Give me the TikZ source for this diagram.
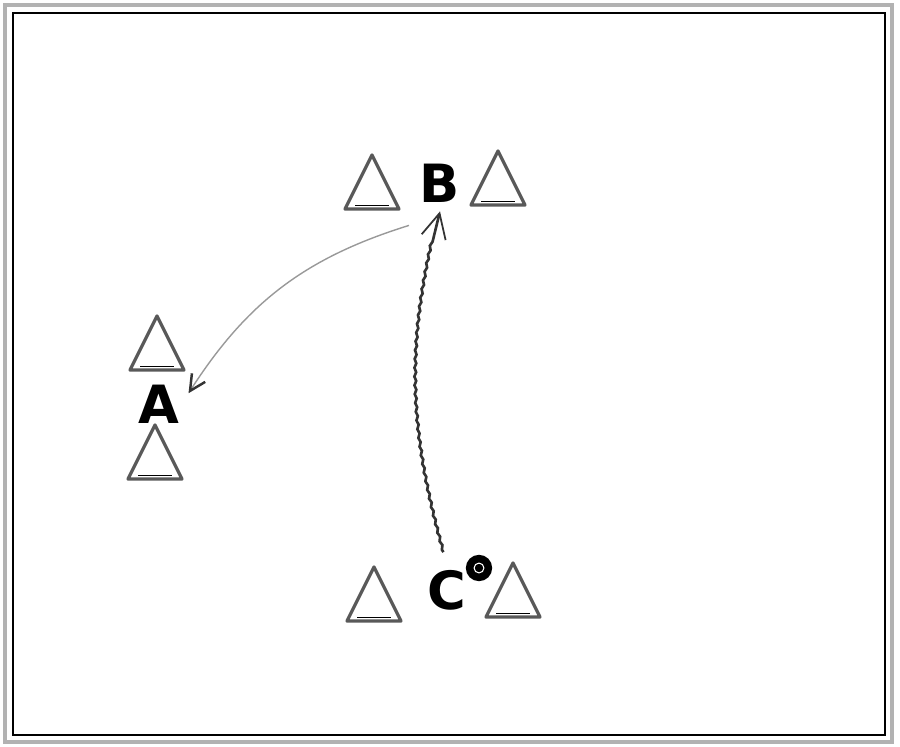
\documentclass[tikz,border=0pt]{standalone}
\usepackage{fontspec}
\setsansfont{DejaVu Sans}
\usetikzlibrary{
  arrows.meta,
  decorations.pathmorphing
}

\begin{document}
\begin{tikzpicture}[
  x=0.02cm, y=-0.02cm,
  cone/.pic={
    \draw[gray!70!black, line width=1.9pt, line join=round] (0,-27) -- (27,27) -- (-27,27) -- cycle;
    \draw[black, line width=0.5pt] (-17,23) -- (17,23);
    },
  player/.style={font=\sffamily\bfseries\fontsize{30}{31}\selectfont, inner sep=1pt},
  pass/.style={gray!80, line width=0.8pt, -{Straight Barb[length=9pt, width=9pt, black!80, line width=1.4pt]}},
  dribble/.style={gray!40!black, line width=1.5pt,
    decorate, decoration={snake, amplitude=0.5pt, segment length=5pt, post length=14pt},
    -{Straight Barb[length=14pt, width=14pt, line width=1pt]}},
  ]
\useasboundingbox (0,0) rectangle (900,747);
% frame
\draw[gray!60, line width=2.4pt] (5,5) rectangle (892,742);
\draw[black, line width=0.8pt] (13,13) rectangle (885,735);

% cones
\pic at (372,182) {cone};
\pic at (498,178) {cone};
\pic at (157,343) {cone};
\pic at (155,452) {cone};
\pic at (374,594) {cone};
\pic at (513,590) {cone};

% players
\node[player] (B) at (440,183) {B};
\node[player] (A) at (159,404) {A};
\node[player] (C) at (447,590) {C};
\node[circle, fill=black, minimum size=15pt, inner sep=0pt] (ball) at (479,568) {};
\draw[white, line width=0.6pt] (ball.center) circle (2.8pt);

% moves
\draw[pass] ([xshift=-5pt, yshift=-12pt]B.south west) to[bend right=20] ([xshift=4pt, yshift=-6pt]A.north east);
\draw[dribble] ([xshift=-2pt, yshift=9pt]C.north) to[bend left=15] ([yshift=-4pt]B.south);
\end{tikzpicture}
\end{document}
